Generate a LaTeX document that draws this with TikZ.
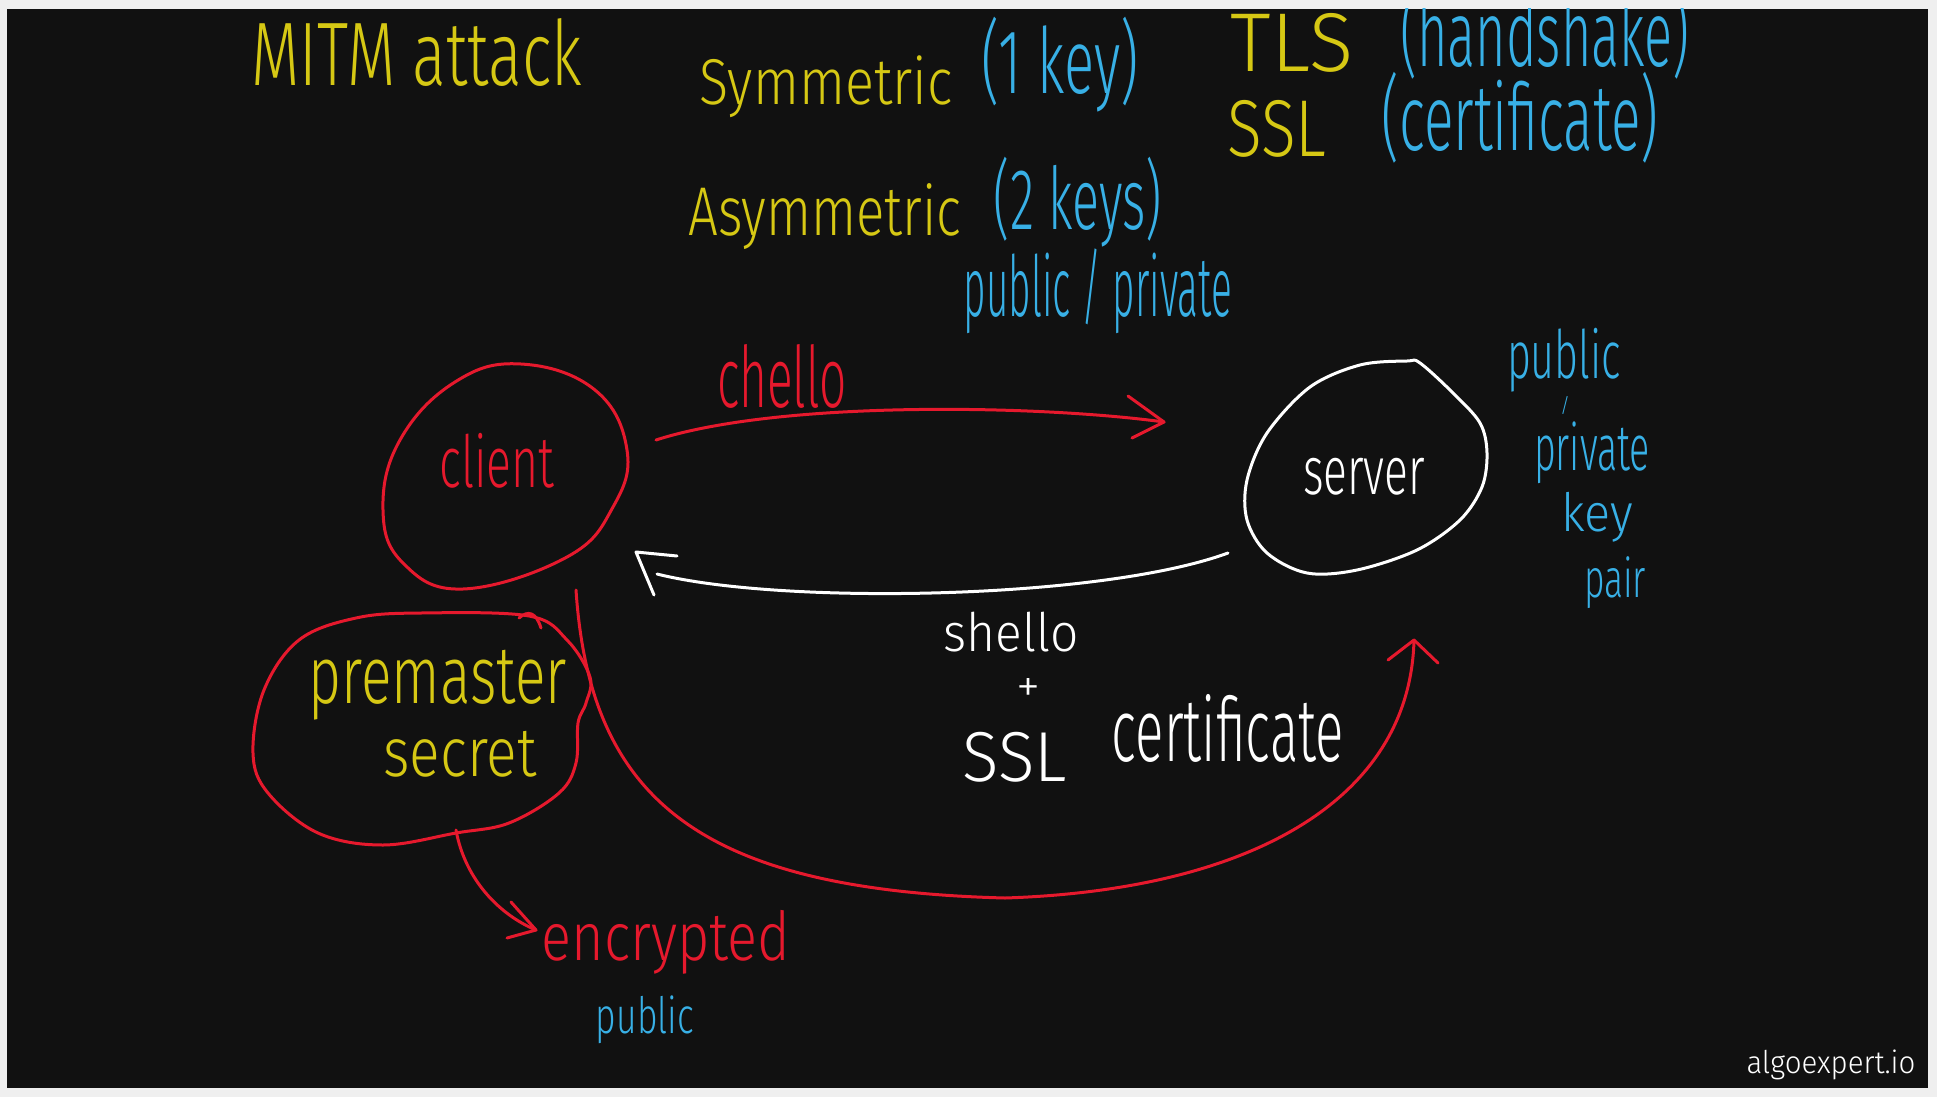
\documentclass[tikz,border=0pt]{standalone}
\usepackage{fontspec}
\usepackage{graphicx}
\newfontfamily\hand{Fira Sans Light}
\definecolor{bg}{HTML}{111111}
\definecolor{framecol}{HTML}{EFEFEF}
\definecolor{hred}{HTML}{E6192D}
\definecolor{hyel}{HTML}{D6C814}
\definecolor{hblue}{HTML}{38B0E6}
\newsavebox{\hwbox}
\newcommand{\hw}[3]{%
  \sbox{\hwbox}{\hand #3}%
  \pgfmathsetmacro\hwk{(#1)*(\ht\hwbox+\dp\hwbox)/((#2)*\wd\hwbox)}%
  \resizebox*{!}{#2pt}{\hand\addfontfeatures{FakeStretch=\hwk}#3}}
\begin{document}
\begin{tikzpicture}[x=1pt,y=-1pt,line cap=round,line join=round,
  txt/.style={inner sep=0pt,outer sep=0pt,anchor=center},
  pen/.style={line width=3pt},
  redpen/.style={pen,draw=hred},
  whitepen/.style={pen,draw=white}]
\useasboundingbox (0,0) rectangle (1937,1097);
\fill[framecol] (0,0) rectangle (1937,1097);
\fill[bg] (7,9) rectangle (1928,1088);
\begin{scope}
\clip (7,9) rectangle (1928,1088);

% ---- top notes ----
\node[txt,text=hyel] (mitm) at (417,52) {\hw{331}{68}{MITM attack}};
\node[txt,text=hyel] (sym) at (826,87) {\hw{253}{62}{Symmetric}};
\node[txt,text=hblue] (onekey) at (1060,65) {\hw{157}{95}{(1 key)}};
\node[txt,text=hyel] (asym) at (825,217) {\hw{273}{66}{Asymmetric}};
\node[txt,text=hblue] (twokeys) at (1078,202) {\hw{168}{90}{(2 keys)}};
\node[txt,text=hblue] (pubpriv) at (1098,291) {\hw{268}{85}{public / private}};
\node[txt,text=hyel] (tls) at (1292,43) {\hw{122}{59}{TLS}};
\node[txt,text=hblue] (handshake) at (1545,34) {\hw{289}{91}{(handshake)}};
\node[txt,text=hyel] (ssltop) at (1277,129) {\hw{99}{57}{SSL}};
\node[txt,text=hblue] (certtop) at (1520,118) {\hw{277}{91}{(certificate)}};

% ---- client ----
\draw[redpen] plot[smooth cycle,tension=0.7] coordinates {
  (521,364) (595,390) (627,450) (613,507) (567,557)
  (463,589) (403,563) (383,510) (400,440) (455,382)};
\node[txt,text=hred] (client) at (497,461) {\hw{115}{55}{client}};

% ---- server ----
\draw[whitepen] plot[smooth cycle,tension=0.55] coordinates {
  (1407,361) (1420,363) (1453,393) (1480,423) (1487,453) (1482,487)
  (1460,520) (1417,550) (1357,570) (1307,573) (1267,553) (1247,520)
  (1247,480) (1267,433) (1310,387) (1360,365)};
\node[txt,text=white] (server) at (1364,477) {\hw{122}{37}{server}};

% ---- key pair note ----
\node[txt,text=hblue] (kpub) at (1564,360) {\hw{114}{64}{public}};
\node[txt,text=hblue] (kslash) at (1565,405) {\hw{10}{18}{/}};
\node[txt,text=hblue] (kpriv) at (1592,453) {\hw{116}{62}{private}};
\node[txt,text=hblue] (kkey) at (1597,517) {\hw{72}{50}{key}};
\node[txt,text=hblue] (kpair) at (1615,583) {\hw{62}{52}{pair}};

% ---- chello ----
\coordinate (chS) at (656,440);
\coordinate (chT) at (1164,422);
\coordinate (chA) at (1128,396);
\coordinate (chB) at (1132,438);
\draw[redpen] (chS) .. controls (780,400) and (1040,405) .. (chT);
\draw[redpen] (chA) -- (chT) -- (chB);
\node[txt,text=hred] (chello) at (782,376) {\hw{130}{64}{chello}};

% ---- shello ----
\coordinate (shS) at (1228,553);
\coordinate (shE) at (657,574);
\coordinate (shT) at (636,552);
\coordinate (shA) at (654,595);
\coordinate (shB) at (677,556);
\draw[whitepen] (shS) .. controls (1100,600) and (780,605) .. (shE);
\draw[whitepen] (shA) -- (shT) -- (shB);
\node[txt,text=white] (shello) at (1011,632) {\hw{135}{40}{shello}};
\node[txt,text=white] (plus) at (1028,690) {\hw{24}{24}{+}};
\node[txt,text=white] (sslw) at (1015,757) {\hw{104}{50}{SSL}};
\node[txt,text=white] (certw) at (1228,728) {\hw{232}{68}{certificate}};

% ---- premaster secret ----
\draw[redpen] plot[smooth cycle,tension=0.6] coordinates {
  (421,613) (529,616) (567,640) (590,677) (586,703) (578,723) (576,763)
  (559,793) (509,823) (456,833) (383,845) (318,833) (268,793) (253,753)
  (264,690) (299,640) (356,618)};
\draw[redpen] (519,618) .. controls (528,610) and (536,612) .. (541,628);
\node[txt,text=hyel] (premaster) at (438,685) {\hw{258}{70}{premaster}};
\node[txt,text=hyel] (secret) at (460,754) {\hw{153}{46}{secret}};

% ---- long red arrow: client to server ----
\coordinate (laS) at (576,590);
\coordinate (laM) at (1005,898);
\coordinate (laT) at (1414,640);
\coordinate (laA) at (1388,660);
\coordinate (laB) at (1438,663);
\draw[redpen] (laS) .. controls (590,800) and (700,890) .. (laM)
  .. controls (1250,890) and (1410,800) .. (laT);
\draw[redpen] (laA) -- (laT) -- (laB);

% ---- encrypted arrow ----
\coordinate (enS) at (456,830);
\coordinate (enT) at (536,930);
\coordinate (enA) at (511,902);
\coordinate (enB) at (507,938);
\draw[redpen] (enS) .. controls (465,880) and (500,915) .. (enT);
\draw[redpen] (enA) -- (enT) -- (enB);
\node[txt,text=hred] (encrypted) at (666,942) {\hw{249}{64}{encrypted}};
\node[txt,text=hblue] (encpub) at (645,1020) {\hw{98}{48}{public}};

% ---- watermark ----
\node[txt,text=white] (logo) at (1831,1065) {\hw{169}{30}{algoexpert.io}};
\end{scope}
\end{tikzpicture}
\end{document}
